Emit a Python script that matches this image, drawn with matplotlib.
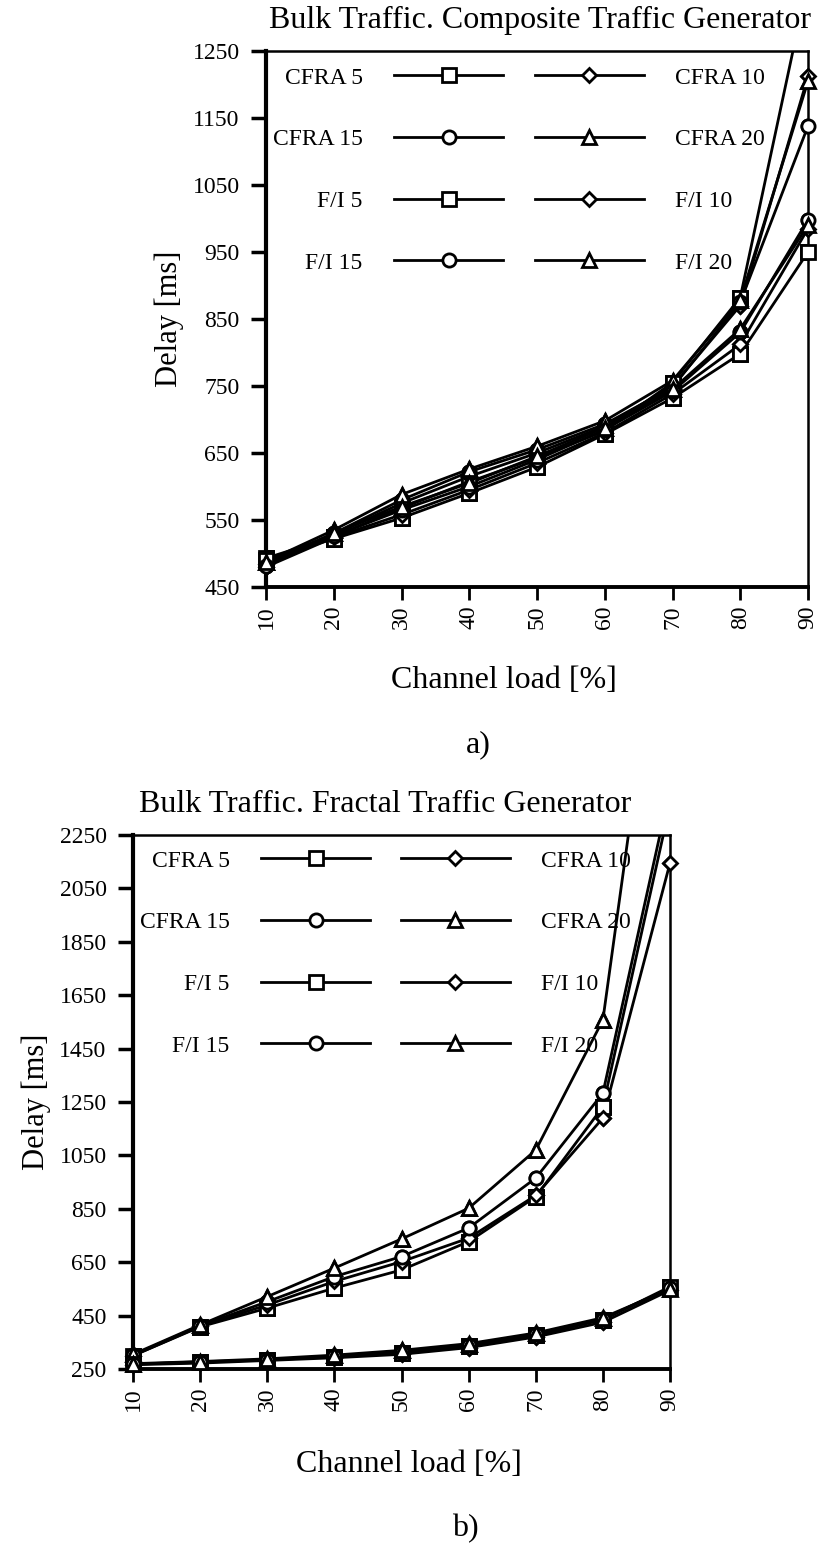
import numpy as np
import matplotlib
matplotlib.use("Agg")
from matplotlib import pyplot as plt

plt.rcParams['font.family'] = ['Liberation Serif', 'DejaVu Serif']

load = [10, 20, 30, 40, 50, 60, 70, 80, 90]
names = ["CFRA 5", "CFRA 10", "CFRA 15", "CFRA 20", "F/I 5", "F/I 10", "F/I 15", "F/I 20"]
markers = ["s", "D", "o", "^", "s", "D", "o", "^"]
msizes = [10, 7, 9.5, 9.5, 10, 7, 9.5, 9.5]

# a) composite traffic generator
comp_cfra5 = [493, 525, 568, 607, 643, 683, 755, 882, 1355]
comp_cfra10 = [485, 528, 575, 615, 650, 690, 750, 870, 1212]
comp_cfra15 = [483, 530, 580, 622, 655, 693, 748, 875, 1138]
comp_cfra20 = [488, 535, 588, 626, 660, 698, 758, 878, 1205]
comp_fi5 = [490, 522, 553, 590, 629, 678, 732, 798, 950]
comp_fi10 = [480, 524, 558, 595, 635, 680, 738, 812, 985]
comp_fi15 = [482, 526, 565, 600, 640, 685, 742, 830, 998]
comp_fi20 = [487, 530, 570, 605, 645, 688, 745, 835, 990]

# b) fractal traffic generator
frac_cfra5 = [300, 408, 478, 553, 621, 727, 895, 1232, 2363]
frac_cfra10 = [300, 410, 490, 578, 652, 740, 900, 1190, 2145]
frac_cfra15 = [302, 412, 502, 596, 671, 778, 965, 1283, 2421]
frac_cfra20 = [305, 415, 521, 628, 737, 852, 1070, 1557, 3380]
frac_fi5 = [268, 277, 284, 296, 310, 336, 377, 434, 558]
frac_fi10 = [266, 272, 282, 292, 305, 330, 370, 425, 545]
frac_fi15 = [268, 275, 285, 298, 315, 340, 380, 438, 552]
frac_fi20 = [270, 278, 288, 302, 320, 345, 385, 442, 550]

W, H = 822, 1559
fig = plt.figure(figsize=(W / 100, H / 100), dpi=100)


def px_axes(l, t, r, b):
    return fig.add_axes([l / W, 1 - b / H, (r - l) / W, (b - t) / H])


def make_panel(ax, data, ymin, ymax, ystep, legx1, legx2, legy):
    x = np.array(load)
    handles = []
    for i, y in enumerate(data):
        y = np.array(y)
        h, = ax.plot(x, y, color="k", lw=2, marker=markers[i], ms=msizes[i],
                     mfc="white", mec="k", mew=2, label=names[i])
        handles.append(h)
        keep = y <= ymax
        ax.plot(x[keep], y[keep], ls="none", marker=markers[i], ms=msizes[i],
                mfc="white", mec="k", mew=2, clip_on=False, zorder=3)
    ax.set_xlim(10, 90)
    ax.set_ylim(ymin, ymax)
    ax.set_xticks(load)
    ax.set_xticklabels([str(v) for v in load], rotation=90)
    ax.set_yticks(np.arange(ymin, ymax + 1, ystep))
    ax.tick_params(axis="y", direction="out", length=11, width=2.5, pad=8, labelsize=17)
    ax.tick_params(axis="x", direction="out", length=9, width=2, pad=4, labelsize=17)
    ax.spines["left"].set_linewidth(3)
    ax.spines["bottom"].set_linewidth(2.8)
    ax.spines["top"].set_linewidth(1.8)
    ax.spines["right"].set_linewidth(1.8)

    left = [handles[i] for i in (0, 2, 4, 6)]
    right = [handles[i] for i in (1, 3, 5, 7)]
    kw = dict(frameon=False, fontsize=17, handlelength=4.6, handletextpad=1.35,
              labelspacing=1.7, borderpad=0, borderaxespad=0, numpoints=1,
              bbox_transform=fig.transFigure)
    leg1 = ax.legend(handles=left, loc="upper right", markerfirst=False,
                     bbox_to_anchor=(legx1 / W, 1 - legy / H), **kw)
    ax.add_artist(leg1)
    ax.legend(handles=right, loc="upper left", markerfirst=True,
              bbox_to_anchor=(legx2 / W, 1 - legy / H), **kw)


ax1 = px_axes(266, 51, 808, 587)
make_panel(ax1, [comp_cfra5, comp_cfra10, comp_cfra15, comp_cfra20,
                 comp_fi5, comp_fi10, comp_fi15, comp_fi20],
           450, 1250, 100, 503, 535, 67)
ax1.set_ylabel("Delay [ms]", fontsize=22, labelpad=6)
fig.text(540 / W, 1 - 20 / H, "Bulk Traffic. Composite Traffic Generator",
         ha="center", va="center", fontsize=23)
fig.text(504 / W, 1 - 680 / H, "Channel load [%]", ha="center", va="center", fontsize=23)
fig.text(478 / W, 1 - 745 / H, "a)", ha="center", va="center", fontsize=23)

ax2 = px_axes(133, 835, 670, 1369)
make_panel(ax2, [frac_cfra5, frac_cfra10, frac_cfra15, frac_cfra20,
                 frac_fi5, frac_fi10, frac_fi15, frac_fi20],
           250, 2250, 200, 370, 401, 850)
ax2.set_ylabel("Delay [ms]", fontsize=22, labelpad=6)
fig.text(385 / W, 1 - 804 / H, "Bulk Traffic. Fractal Traffic Generator",
         ha="center", va="center", fontsize=23)
fig.text(409 / W, 1 - 1464 / H, "Channel load [%]", ha="center", va="center", fontsize=23)
fig.text(465 / W, 1 - 1529 / H, "b)", ha="center", va="center", fontsize=23)

fig.savefig("out.png", dpi=100)
